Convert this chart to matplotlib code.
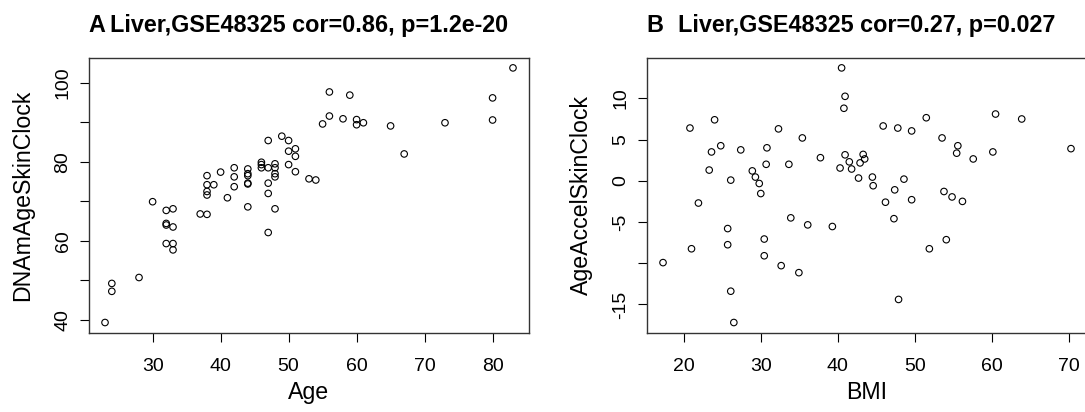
import matplotlib
matplotlib.use("Agg")
import matplotlib.pyplot as plt
import numpy as np

# panel A: Age vs DNAmAgeSkinClock
age = [23, 24, 24, 28, 30, 32, 32, 32, 32, 33, 33, 33, 33, 37, 38, 38, 38, 38, 38,
       39, 40, 41, 42, 42, 42, 44, 44, 44, 44, 44, 44, 46, 46, 46, 47, 47, 47, 47,
       47, 48, 48, 48, 48, 48, 49, 50, 50, 50, 51, 51, 51, 53, 54, 55, 56, 56, 58,
       59, 60, 60, 61, 65, 67, 73, 80, 80, 83]
dnam_age = [39.3, 49.2, 47.2, 50.7, 69.9, 67.7, 64.4, 64.0, 59.3, 68.1, 63.5, 59.3,
            57.7, 66.8, 66.7, 76.5, 74.2, 72.5, 71.6, 74.2, 77.4, 70.9, 78.5, 76.2,
            73.7, 78.2, 77.0, 76.5, 74.6, 74.4, 68.6, 79.9, 79.3, 78.5, 85.4, 78.5,
            74.6, 72.0, 62.1, 79.5, 78.5, 77.0, 76.2, 68.1, 86.5, 85.4, 82.7, 79.3,
            83.3, 81.4, 77.5, 75.7, 75.4, 89.6, 97.7, 91.6, 90.9, 96.9, 90.7, 89.4,
            89.9, 89.1, 82.0, 89.9, 96.2, 90.6, 103.8]

# panel B: BMI vs AgeAccelSkinClock
bmi = [20.8, 24.0, 24.8, 23.6, 27.4, 23.3, 26.1, 32.3, 30.8, 35.4, 30.7, 33.65,
       37.75, 28.9, 29.3, 29.8, 30.0, 21.9, 33.9, 36.1, 39.3, 25.7, 30.45, 25.7,
       21.0, 17.3, 30.45, 32.65, 34.95, 26.1, 26.5,
       40.5, 40.95, 40.8, 45.9, 47.8, 49.6, 51.5, 60.5, 63.9, 53.55, 55.6, 55.45,
       57.6, 60.15, 70.3, 40.95, 43.3, 43.5, 41.5, 42.9, 40.3, 41.8, 42.7, 44.5,
       44.6, 48.6, 47.4, 46.2, 49.6, 53.8, 54.85, 56.2, 47.3, 54.1, 51.9, 47.9]
age_accel = [6.4, 7.4, 4.25, 3.5, 3.75, 1.3, 0.08, 6.3, 4.0, 5.2, 2.0, 2.0,
             2.8, 1.2, 0.45, -0.33, -1.55, -2.7, -4.5, -5.35, -5.55, -5.8, -7.07, -7.76,
             -8.25, -9.93, -9.1, -10.3, -11.15, -13.4, -17.2,
             13.7, 10.25, 8.8, 6.65, 6.4, 6.05, 7.65, 8.1, 7.5, 5.2, 4.25, 3.35,
             2.65, 3.5, 3.9, 3.15, 3.2, 2.65, 2.3, 2.17, 1.55, 1.43, 0.33, 0.45,
             -0.6, 0.2, -1.1, -2.6, -2.3, -1.3, -1.96, -2.5, -4.6, -7.15, -8.25, -14.4]

plt.rcParams['font.family'] = ['Liberation Sans', 'DejaVu Sans']

W, H = 1085, 412
fig = plt.figure(figsize=(W / 100, H / 100), dpi=100)


def r_lim(v):
    # R style axis range: data range padded by 4% each side
    lo, hi = min(v), max(v)
    d = (hi - lo) * 0.04
    return lo - d, hi + d


def panel(rect, x, y, letter, title, xlabel, ylabel, xticks, yticks, ylabels):
    ax = fig.add_axes(rect)
    ax.scatter(x, y, s=22, facecolors='none', edgecolors='black', linewidths=0.8)
    ax.set_xlim(r_lim(x))
    ax.set_ylim(r_lim(y))
    ax.set_xticks(xticks)
    ax.set_yticks(yticks)
    ax.set_yticklabels(ylabels)
    ax.tick_params(length=6.3, width=0.8, labelsize=14, color='black')
    ax.tick_params(axis='x', pad=12)
    ax.tick_params(axis='y', pad=6)
    plt.setp(ax.get_yticklabels(), rotation=90, va='center')
    for s in ax.spines.values():
        s.set_color('#333333')
        s.set_linewidth(1.0)
    ax.set_title(letter, loc='left', fontsize=16.8, fontweight='bold', pad=18.5)
    ax.set_title(title, loc='center', fontsize=16.8, fontweight='bold', pad=18.5)
    ax.set_xlabel(xlabel, fontsize=16.7, va='center')
    ax.set_ylabel(ylabel, fontsize=16.7, va='center')
    ax.xaxis.set_label_coords(0.5, -(392 - 332.7) / 274.7)
    ax.yaxis.set_label_coords(-65.7 / 440.6, 0.5)
    return ax


axw = 440.6 / W
axh = 275.0 / H
axb = (H - 332.7) / H

panel([88.7 / W, axb, axw, axh], age, dnam_age, 'A',
      'Liver,GSE48325 cor=0.86, p=1.2e-20', 'Age', 'DNAmAgeSkinClock',
      [30, 40, 50, 60, 70, 80], [40, 50, 60, 70, 80, 90, 100],
      ['40', '', '60', '', '80', '', '100'])

panel([646.7 / W, axb, axw, axh], bmi, age_accel, 'B',
      'Liver,GSE48325 cor=0.27, p=0.027', 'BMI', 'AgeAccelSkinClock',
      [20, 30, 40, 50, 60, 70], [-15, -10, -5, 0, 5, 10],
      ['-15', '', '-5', '0', '5', '10'])

fig.savefig('out.png', dpi=100)
